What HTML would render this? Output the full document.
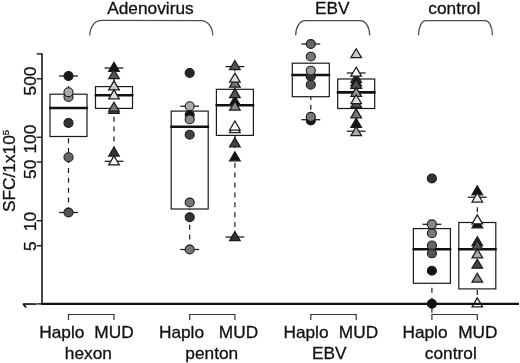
<!DOCTYPE html>
<html><head><meta charset="utf-8">
<style>html,body{margin:0;padding:0;background:#fff}body{width:520px;height:363px;overflow:hidden}svg{filter:grayscale(1)}svg text{font-family:"Liberation Sans",Arial,sans-serif;stroke:#111;stroke-width:0.3px}svg text.one{font-family:"NanumGothic","Liberation Sans",sans-serif;stroke-width:0.6px}</style>
</head><body>
<svg width="520" height="363" viewBox="0 0 520 363" style="display:block" font-size="17.3" fill="#111">
<rect width="520" height="363" fill="#fff"/>
<text transform="translate(150.4,14.0) scale(1,0.955)" text-anchor="middle">Adenovirus</text>
<text transform="translate(332.3,14.0) scale(1,0.955)" text-anchor="middle">EBV</text>
<text transform="translate(454.3,14.0) scale(1,0.955)" text-anchor="middle">control</text>
<path d="M89.75,35.4 C89.75,27.15 94.92,20.5 101.25,20.5 L201.25,20.5 C207.57,20.5 212.75,27.15 212.75,35.4" fill="none" stroke="#4a4a4a" stroke-width="1.25"/>
<path d="M295.7,35.2 C295.7,26.95 299.97,20.7 305.2,20.7 L360.2,20.7 C365.43,20.7 369.7,26.95 369.7,35.2" fill="none" stroke="#4a4a4a" stroke-width="1.25"/>
<path d="M418.5,35.2 C418.5,26.95 421.74,20.7 425.7,20.7 L485.2,20.7 C489.16,20.7 492.4,26.95 492.4,35.2" fill="none" stroke="#4a4a4a" stroke-width="1.25"/>
<line x1="68.5" y1="76" x2="68.5" y2="94.2" stroke="#1a1a1a" stroke-width="1.2" stroke-dasharray="5 4.9"/>
<line x1="68.5" y1="212.5" x2="68.5" y2="136.5" stroke="#1a1a1a" stroke-width="1.2" stroke-dasharray="5 4.9"/>
<line x1="59.1" y1="76" x2="77.9" y2="76" stroke="#1a1a1a" stroke-width="1.25"/>
<line x1="59.1" y1="212.5" x2="77.9" y2="212.5" stroke="#1a1a1a" stroke-width="1.25"/>
<rect x="50.0" y="94.2" width="37.0" height="42.30" fill="#fff" stroke="#1a1a1a" stroke-width="1.2"/>
<line x1="114.0" y1="68" x2="114.0" y2="86.6" stroke="#1a1a1a" stroke-width="1.2" stroke-dasharray="5 4.9"/>
<line x1="114.0" y1="161.3" x2="114.0" y2="108.4" stroke="#1a1a1a" stroke-width="1.2" stroke-dasharray="5 4.9"/>
<line x1="104.6" y1="68" x2="123.4" y2="68" stroke="#1a1a1a" stroke-width="1.25"/>
<line x1="104.6" y1="161.3" x2="123.4" y2="161.3" stroke="#1a1a1a" stroke-width="1.25"/>
<rect x="95.5" y="86.6" width="37.0" height="21.80" fill="#fff" stroke="#1a1a1a" stroke-width="1.2"/>
<line x1="189.7" y1="106.2" x2="189.7" y2="111.1" stroke="#1a1a1a" stroke-width="1.2" stroke-dasharray="5 4.9"/>
<line x1="189.7" y1="249.5" x2="189.7" y2="209.0" stroke="#1a1a1a" stroke-width="1.2" stroke-dasharray="5 4.9"/>
<line x1="180.29999999999998" y1="106.2" x2="199.1" y2="106.2" stroke="#1a1a1a" stroke-width="1.25"/>
<line x1="180.29999999999998" y1="249.5" x2="199.1" y2="249.5" stroke="#1a1a1a" stroke-width="1.25"/>
<rect x="171.2" y="111.1" width="37.0" height="97.90" fill="#fff" stroke="#1a1a1a" stroke-width="1.2"/>
<line x1="234.9" y1="66.6" x2="234.9" y2="89.3" stroke="#1a1a1a" stroke-width="1.2" stroke-dasharray="5 4.9"/>
<line x1="234.9" y1="237" x2="234.9" y2="135.4" stroke="#1a1a1a" stroke-width="1.2" stroke-dasharray="5 4.9"/>
<line x1="225.5" y1="66.6" x2="244.3" y2="66.6" stroke="#1a1a1a" stroke-width="1.25"/>
<line x1="225.5" y1="237" x2="244.3" y2="237" stroke="#1a1a1a" stroke-width="1.25"/>
<rect x="216.4" y="89.3" width="37.0" height="46.10" fill="#fff" stroke="#1a1a1a" stroke-width="1.2"/>
<line x1="310.8" y1="44" x2="310.8" y2="63.2" stroke="#1a1a1a" stroke-width="1.2" stroke-dasharray="5 4.9"/>
<line x1="310.8" y1="119.7" x2="310.8" y2="96.7" stroke="#1a1a1a" stroke-width="1.2" stroke-dasharray="5 4.9"/>
<line x1="301.40000000000003" y1="44" x2="320.2" y2="44" stroke="#1a1a1a" stroke-width="1.25"/>
<line x1="301.40000000000003" y1="119.7" x2="320.2" y2="119.7" stroke="#1a1a1a" stroke-width="1.25"/>
<rect x="292.3" y="63.2" width="37.0" height="33.50" fill="#fff" stroke="#1a1a1a" stroke-width="1.2"/>
<line x1="356.2" y1="73" x2="356.2" y2="79" stroke="#1a1a1a" stroke-width="1.2" stroke-dasharray="5 4.9"/>
<line x1="356.2" y1="131.2" x2="356.2" y2="108.5" stroke="#1a1a1a" stroke-width="1.2" stroke-dasharray="5 4.9"/>
<line x1="346.8" y1="73" x2="365.59999999999997" y2="73" stroke="#1a1a1a" stroke-width="1.25"/>
<line x1="346.8" y1="131.2" x2="365.59999999999997" y2="131.2" stroke="#1a1a1a" stroke-width="1.25"/>
<rect x="337.7" y="79" width="37.0" height="29.50" fill="#fff" stroke="#1a1a1a" stroke-width="1.2"/>
<line x1="431.9" y1="224.3" x2="431.9" y2="228.6" stroke="#1a1a1a" stroke-width="1.2" stroke-dasharray="5 4.9"/>
<line x1="431.9" y1="287.7" x2="431.9" y2="313" stroke="#1a1a1a" stroke-width="1.2" stroke-dasharray="5 5"/>
<line x1="422.5" y1="224.3" x2="441.29999999999995" y2="224.3" stroke="#1a1a1a" stroke-width="1.25"/>
<rect x="413.4" y="228.6" width="37.0" height="54.70" fill="#fff" stroke="#1a1a1a" stroke-width="1.2"/>
<line x1="477.3" y1="197.3" x2="477.3" y2="222.5" stroke="#1a1a1a" stroke-width="1.2" stroke-dasharray="5 4.9"/>
<line x1="477.3" y1="290" x2="477.3" y2="296" stroke="#1a1a1a" stroke-width="1.2" stroke-dasharray="5 5"/>
<line x1="467.90000000000003" y1="197.3" x2="486.7" y2="197.3" stroke="#1a1a1a" stroke-width="1.25"/>
<rect x="458.8" y="222.5" width="37.0" height="66.40" fill="#fff" stroke="#1a1a1a" stroke-width="1.2"/>
<line x1="49.1" y1="108.0" x2="87.9" y2="108.0" stroke="#111" stroke-width="2.6"/>
<line x1="94.6" y1="95.2" x2="133.4" y2="95.2" stroke="#111" stroke-width="2.6"/>
<line x1="170.29999999999998" y1="126.8" x2="209.1" y2="126.8" stroke="#111" stroke-width="2.6"/>
<line x1="215.5" y1="105.3" x2="254.3" y2="105.3" stroke="#111" stroke-width="2.6"/>
<line x1="291.40000000000003" y1="75.0" x2="330.2" y2="75.0" stroke="#111" stroke-width="2.6"/>
<line x1="336.8" y1="92.4" x2="375.59999999999997" y2="92.4" stroke="#111" stroke-width="2.6"/>
<line x1="412.5" y1="249.3" x2="451.29999999999995" y2="249.3" stroke="#111" stroke-width="2.6"/>
<line x1="457.90000000000003" y1="249.3" x2="496.7" y2="249.3" stroke="#111" stroke-width="2.6"/>
<ellipse cx="68.5" cy="97" rx="4.52" ry="4.42" fill="#888" stroke="#1c1c1c" stroke-width="1.1"/>
<ellipse cx="68.5" cy="92.2" rx="4.52" ry="4.42" fill="#aaa" stroke="#1c1c1c" stroke-width="1.1"/>
<ellipse cx="68.5" cy="76" rx="4.52" ry="4.42" fill="#1a1a1a" stroke="#1c1c1c" stroke-width="1.1"/>
<ellipse cx="68.5" cy="123" rx="4.52" ry="4.42" fill="#333" stroke="#1c1c1c" stroke-width="1.1"/>
<ellipse cx="68.5" cy="157.2" rx="4.52" ry="4.42" fill="#666" stroke="#1c1c1c" stroke-width="1.1"/>
<ellipse cx="68.5" cy="212.5" rx="4.52" ry="4.42" fill="#555" stroke="#1c1c1c" stroke-width="1.1"/>
<path d="M114.0,62.33 L119.3,71.33 L108.7,71.33Z" fill="#111" stroke="#1c1c1c" stroke-width="1.25" stroke-linejoin="miter"/>
<path d="M114.0,69.73 L119.3,78.73 L108.7,78.73Z" fill="#555" stroke="#1c1c1c" stroke-width="1.25" stroke-linejoin="miter"/>
<path d="M114.0,80.83 L119.3,89.83 L108.7,89.83Z" fill="#ccc" stroke="#1c1c1c" stroke-width="1.25" stroke-linejoin="miter"/>
<path d="M114.0,89.83 L119.3,98.83 L108.7,98.83Z" fill="#ddd" stroke="#1c1c1c" stroke-width="1.25" stroke-linejoin="miter"/>
<path d="M114.0,104.33 L119.3,113.33 L108.7,113.33Z" fill="#444" stroke="#1c1c1c" stroke-width="1.25" stroke-linejoin="miter"/>
<path d="M114.0,102.23 L119.3,111.23 L108.7,111.23Z" fill="#777" stroke="#1c1c1c" stroke-width="1.25" stroke-linejoin="miter"/>
<path d="M114.0,147.03 L119.3,156.03 L108.7,156.03Z" fill="#333" stroke="#1c1c1c" stroke-width="1.25" stroke-linejoin="miter"/>
<path d="M114.0,155.83 L119.3,164.83 L108.7,164.83Z" fill="#fff" stroke="#1c1c1c" stroke-width="1.25" stroke-linejoin="miter"/>
<ellipse cx="189.7" cy="72.95" rx="4.52" ry="4.42" fill="#262626" stroke="#1c1c1c" stroke-width="1.1"/>
<ellipse cx="189.7" cy="115" rx="4.52" ry="4.42" fill="#111" stroke="#1c1c1c" stroke-width="1.1"/>
<ellipse cx="189.7" cy="119.4" rx="4.52" ry="4.42" fill="#888" stroke="#1c1c1c" stroke-width="1.1"/>
<ellipse cx="189.7" cy="106.2" rx="4.52" ry="4.42" fill="#aaa" stroke="#1c1c1c" stroke-width="1.1"/>
<ellipse cx="189.7" cy="134.7" rx="4.52" ry="4.42" fill="#444" stroke="#1c1c1c" stroke-width="1.1"/>
<ellipse cx="189.7" cy="202.5" rx="4.52" ry="4.42" fill="#777" stroke="#1c1c1c" stroke-width="1.1"/>
<ellipse cx="189.7" cy="217.2" rx="4.52" ry="4.42" fill="#333" stroke="#1c1c1c" stroke-width="1.1"/>
<ellipse cx="189.7" cy="249.5" rx="4.52" ry="4.42" fill="#777" stroke="#1c1c1c" stroke-width="1.1"/>
<path d="M234.9,60.53 L240.20000000000002,69.53 L229.6,69.53Z" fill="#555" stroke="#1c1c1c" stroke-width="1.25" stroke-linejoin="miter"/>
<path d="M234.9,78.13 L240.20000000000002,87.13 L229.6,87.13Z" fill="#777" stroke="#1c1c1c" stroke-width="1.25" stroke-linejoin="miter"/>
<path d="M234.9,73.13 L240.20000000000002,82.13 L229.6,82.13Z" fill="#ddd" stroke="#1c1c1c" stroke-width="1.25" stroke-linejoin="miter"/>
<path d="M234.9,96.03 L240.20000000000002,105.03 L229.6,105.03Z" fill="#111" stroke="#1c1c1c" stroke-width="1.25" stroke-linejoin="miter"/>
<path d="M234.9,88.63 L240.20000000000002,97.63 L229.6,97.63Z" fill="#555" stroke="#1c1c1c" stroke-width="1.25" stroke-linejoin="miter"/>
<path d="M234.9,101.13 L240.20000000000002,110.13 L229.6,110.13Z" fill="#888" stroke="#1c1c1c" stroke-width="1.25" stroke-linejoin="miter"/>
<path d="M234.9,123.63 L240.20000000000002,132.63 L229.6,132.63Z" fill="#fff" stroke="#1c1c1c" stroke-width="1.25" stroke-linejoin="miter"/>
<path d="M234.9,121.03 L240.20000000000002,130.03 L229.6,130.03Z" fill="#fff" stroke="#1c1c1c" stroke-width="1.25" stroke-linejoin="miter"/>
<path d="M234.9,137.83 L240.20000000000002,146.83 L229.6,146.83Z" fill="#444" stroke="#1c1c1c" stroke-width="1.25" stroke-linejoin="miter"/>
<path d="M234.9,151.83 L240.20000000000002,160.83 L229.6,160.83Z" fill="#111" stroke="#1c1c1c" stroke-width="1.25" stroke-linejoin="miter"/>
<path d="M234.9,231.58 L240.20000000000002,240.58 L229.6,240.58Z" fill="#333" stroke="#1c1c1c" stroke-width="1.25" stroke-linejoin="miter"/>
<ellipse cx="310.8" cy="44" rx="4.52" ry="4.42" fill="#666" stroke="#1c1c1c" stroke-width="1.1"/>
<ellipse cx="310.8" cy="56.6" rx="4.52" ry="4.42" fill="#777" stroke="#1c1c1c" stroke-width="1.1"/>
<ellipse cx="310.8" cy="76.4" rx="4.52" ry="4.42" fill="#333" stroke="#1c1c1c" stroke-width="1.1"/>
<ellipse cx="310.8" cy="70.6" rx="4.52" ry="4.42" fill="#999" stroke="#1c1c1c" stroke-width="1.1"/>
<ellipse cx="310.8" cy="84.7" rx="4.52" ry="4.42" fill="#555" stroke="#1c1c1c" stroke-width="1.1"/>
<ellipse cx="310.8" cy="120.5" rx="4.52" ry="4.42" fill="#111" stroke="#1c1c1c" stroke-width="1.1"/>
<ellipse cx="310.8" cy="116.8" rx="4.52" ry="4.42" fill="#777" stroke="#1c1c1c" stroke-width="1.1"/>
<path d="M356.2,48.73 L361.5,57.73 L350.9,57.73Z" fill="#ccc" stroke="#1c1c1c" stroke-width="1.25" stroke-linejoin="miter"/>
<path d="M356.2,73.33 L361.5,82.33 L350.9,82.33Z" fill="#444" stroke="#1c1c1c" stroke-width="1.25" stroke-linejoin="miter"/>
<path d="M356.2,76.83 L361.5,85.83 L350.9,85.83Z" fill="#111" stroke="#1c1c1c" stroke-width="1.25" stroke-linejoin="miter"/>
<path d="M356.2,79.33 L361.5,88.33 L350.9,88.33Z" fill="#555" stroke="#1c1c1c" stroke-width="1.25" stroke-linejoin="miter"/>
<path d="M356.2,67.13 L361.5,76.13 L350.9,76.13Z" fill="#fff" stroke="#1c1c1c" stroke-width="1.25" stroke-linejoin="miter"/>
<path d="M356.2,87.33 L361.5,96.33 L350.9,96.33Z" fill="#999" stroke="#1c1c1c" stroke-width="1.25" stroke-linejoin="miter"/>
<path d="M356.2,98.33 L361.5,107.33 L350.9,107.33Z" fill="#555" stroke="#1c1c1c" stroke-width="1.25" stroke-linejoin="miter"/>
<path d="M356.2,94.73 L361.5,103.73 L350.9,103.73Z" fill="#ddd" stroke="#1c1c1c" stroke-width="1.25" stroke-linejoin="miter"/>
<path d="M356.2,108.83 L361.5,117.83 L350.9,117.83Z" fill="#777" stroke="#1c1c1c" stroke-width="1.25" stroke-linejoin="miter"/>
<path d="M356.2,118.33 L361.5,127.33 L350.9,127.33Z" fill="#111" stroke="#1c1c1c" stroke-width="1.25" stroke-linejoin="miter"/>
<path d="M356.2,126.73 L361.5,135.73 L350.9,135.73Z" fill="#aaa" stroke="#1c1c1c" stroke-width="1.25" stroke-linejoin="miter"/>
<ellipse cx="431.9" cy="178.5" rx="4.52" ry="4.42" fill="#333" stroke="#1c1c1c" stroke-width="1.1"/>
<ellipse cx="431.9" cy="233.3" rx="4.52" ry="4.42" fill="#777" stroke="#1c1c1c" stroke-width="1.1"/>
<ellipse cx="431.9" cy="224.3" rx="4.52" ry="4.42" fill="#888" stroke="#1c1c1c" stroke-width="1.1"/>
<ellipse cx="431.9" cy="245.4" rx="4.52" ry="4.42" fill="#666" stroke="#1c1c1c" stroke-width="1.1"/>
<ellipse cx="431.9" cy="253.4" rx="4.52" ry="4.42" fill="#555" stroke="#1c1c1c" stroke-width="1.1"/>
<ellipse cx="431.9" cy="270.7" rx="4.52" ry="4.42" fill="#111" stroke="#1c1c1c" stroke-width="1.1"/>
<ellipse cx="431.9" cy="303.75" rx="4.52" ry="4.42" fill="#111" stroke="#1c1c1c" stroke-width="1.1"/>
<path d="M477.3,185.83 L482.6,194.83 L472.0,194.83Z" fill="#111" stroke="#1c1c1c" stroke-width="1.25" stroke-linejoin="miter"/>
<path d="M477.3,193.03 L482.6,202.03 L472.0,202.03Z" fill="#eee" stroke="#1c1c1c" stroke-width="1.25" stroke-linejoin="miter"/>
<path d="M477.3,218.83 L482.6,227.83 L472.0,227.83Z" fill="#111" stroke="#1c1c1c" stroke-width="1.25" stroke-linejoin="miter"/>
<path d="M477.3,214.83 L482.6,223.83 L472.0,223.83Z" fill="#fff" stroke="#1c1c1c" stroke-width="1.25" stroke-linejoin="miter"/>
<path d="M477.3,236.63 L482.6,245.63 L472.0,245.63Z" fill="#333" stroke="#1c1c1c" stroke-width="1.25" stroke-linejoin="miter"/>
<path d="M477.3,240.13 L482.6,249.13 L472.0,249.13Z" fill="#555" stroke="#1c1c1c" stroke-width="1.25" stroke-linejoin="miter"/>
<path d="M477.3,248.83 L482.6,257.83 L472.0,257.83Z" fill="#aaa" stroke="#1c1c1c" stroke-width="1.25" stroke-linejoin="miter"/>
<path d="M477.3,259.23 L482.6,268.23 L472.0,268.23Z" fill="#444" stroke="#1c1c1c" stroke-width="1.25" stroke-linejoin="miter"/>
<path d="M477.3,273.23 L482.6,282.23 L472.0,282.23Z" fill="#888" stroke="#1c1c1c" stroke-width="1.25" stroke-linejoin="miter"/>
<path d="M477.3,297.83 L482.6,306.83 L472.0,306.83Z" fill="#fff" stroke="#1c1c1c" stroke-width="1.25" stroke-linejoin="miter"/>
<line x1="42" y1="53.3" x2="42" y2="304" stroke="#1a1a1a" stroke-width="1.6"/>
<line x1="36.6" y1="53.9" x2="42" y2="53.9" stroke="#1a1a1a" stroke-width="1.4"/>
<line x1="36.6" y1="78.8" x2="42" y2="78.8" stroke="#1a1a1a" stroke-width="1.4"/>
<text transform="translate(35.8,81) rotate(-90)" text-anchor="middle">500</text>
<line x1="36.6" y1="137.25" x2="42" y2="137.25" stroke="#1a1a1a" stroke-width="1.4"/>
<text transform="translate(35.8,139.1) rotate(-90)" text-anchor="middle">100</text>
<line x1="36.6" y1="162" x2="42" y2="162" stroke="#1a1a1a" stroke-width="1.4"/>
<text transform="translate(35.8,169.3) rotate(-90)" text-anchor="middle">50</text>
<line x1="36.6" y1="220.75" x2="42" y2="220.75" stroke="#1a1a1a" stroke-width="1.4"/>
<text transform="translate(35.8,221.6) rotate(-90)" text-anchor="middle">10</text>
<line x1="36.6" y1="245.75" x2="42" y2="245.75" stroke="#1a1a1a" stroke-width="1.4"/>
<text transform="translate(35.8,246.1) rotate(-90)" text-anchor="middle">5</text>
<line x1="36.6" y1="303.9" x2="42" y2="303.9" stroke="#1a1a1a" stroke-width="1.4"/>
<text class="one" transform="translate(35.8,304.7) rotate(-90)" text-anchor="middle">1</text>
<line x1="41.4" y1="303.9" x2="519" y2="303.9" stroke="#111" stroke-width="2.1"/>
<text transform="translate(14.9,212) rotate(-90)">SFC/1x10<tspan font-size="9.5" dy="-6.3">5</tspan></text>
<path d="M68.5,320 L68.5,314.5 L114.0,314.5 L114.0,320" fill="none" stroke="#333" stroke-width="1.2"/>
<text transform="translate(39.25,338.3) scale(1,0.955)" text-anchor="start">Haplo</text>
<text transform="translate(94.35,338.3) scale(1,0.955)" text-anchor="start">MUD</text>
<text transform="translate(88.4,359.3) scale(1,0.955)" text-anchor="middle">hexon</text>
<path d="M189.7,320 L189.7,314.5 L234.9,314.5 L234.9,320" fill="none" stroke="#333" stroke-width="1.2"/>
<text transform="translate(158.9,338.3) scale(1,0.955)" text-anchor="start">Haplo</text>
<text transform="translate(218.75,338.3) scale(1,0.955)" text-anchor="start">MUD</text>
<text transform="translate(211.8,359.3) scale(1,0.955)" text-anchor="middle">penton</text>
<path d="M310.8,320 L310.8,314.5 L356.2,314.5 L356.2,320" fill="none" stroke="#333" stroke-width="1.2"/>
<text transform="translate(283.4,338.3) scale(1,0.955)" text-anchor="start">Haplo</text>
<text transform="translate(338.75,338.3) scale(1,0.955)" text-anchor="start">MUD</text>
<text transform="translate(329.2,359.3) scale(1,0.955)" text-anchor="middle">EBV</text>
<path d="M431.9,320 L431.9,314.5 L477.3,314.5 L477.3,320" fill="none" stroke="#333" stroke-width="1.2"/>
<text transform="translate(402.4,338.3) scale(1,0.955)" text-anchor="start">Haplo</text>
<text transform="translate(458.15,338.3) scale(1,0.955)" text-anchor="start">MUD</text>
<text transform="translate(450.8,359.3) scale(1,0.955)" text-anchor="middle">control</text>
</svg>
</body></html>
